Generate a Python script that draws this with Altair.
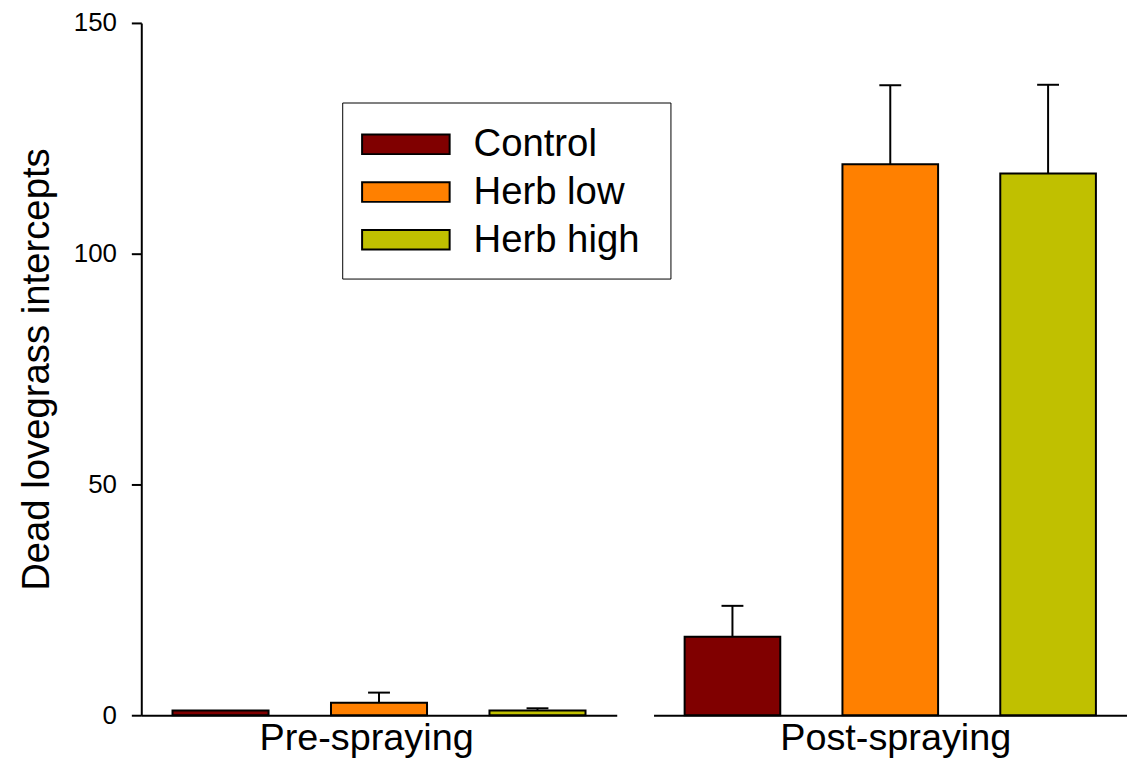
import altair as alt
import pandas as pd

treatments = ["Control", "Herb low", "Herb high"]
colors = ["#800000", "#FF8000", "#C0C000"]
periods = ["Pre-spraying", "Post-spraying"]
pre_mean = [1.0, 2.7, 1.0]
pre_se = [0.0, 2.2, 0.5]
post_mean = [17.0, 119.4, 117.4]
post_se = [6.7, 17.1, 19.2]
y_ticks = [0, 50, 100, 150]

FONT = "Liberation Sans"
BIG = 38.5


def panel(title, means, ses, width, show_y, show_legend, title_x):
    df = pd.DataFrame({"Treatment": treatments, "mean": means, "se": ses})
    df["upper"] = df["mean"] + df["se"]

    x = alt.X("Treatment:N", sort=treatments,
              scale=alt.Scale(paddingInner=0.394, paddingOuter=0.197),
              axis=alt.Axis(
                  title=title, labels=False, ticks=False, domainColor="black",
                  domainWidth=2, titleFontSize=38, titleFontWeight="normal",
                  titleFont=FONT, titleColor="black", titlePadding=4,
                  titleX=title_x,
              ))
    yscale = alt.Scale(domain=[0, 150], nice=False, zero=True)
    if show_y:
        yaxis = alt.Axis(
            title="Dead lovegrass intercepts", values=y_ticks, grid=False,
            domainColor="black", domainWidth=2, tickColor="black",
            tickWidth=2, tickSize=10, labelPadding=15, labelFontSize=26,
            labelFont=FONT, labelColor="black", titleFontSize=BIG,
            titleFont=FONT, titleFontWeight="normal", titleColor="black",
            titlePadding=17,
        )
    else:
        yaxis = None

    if show_legend:
        legend = alt.Legend(
            title=" ", titleOrient="right", titlePadding=12, titleFontSize=1,
            orient="none", legendX=202, legendY=80,
            symbolType="M-1,-0.45H3V0.45H-1Z", symbolSize=1936,
            symbolStrokeColor="black", symbolStrokeWidth=2, symbolOpacity=1,
            labelOffset=67, labelFontSize=BIG, labelFont=FONT,
            labelColor="black", labelLimit=500, rowPadding=5, padding=19,
            strokeColor="black", fillColor="white",
        )
    else:
        legend = None

    color = alt.Color("Treatment:N", sort=treatments,
                      scale=alt.Scale(domain=treatments, range=colors),
                      legend=legend)

    bars = alt.Chart(df).mark_bar(stroke="black", strokeWidth=2, opacity=1).encode(
        x=x, y=alt.Y("mean:Q", scale=yscale, axis=yaxis), fill=color
    )
    err = alt.Chart(df).transform_filter("datum.se > 0").mark_rule(
        color="black", strokeWidth=2
    ).encode(
        x=alt.X("Treatment:N", sort=treatments),
        y=alt.Y("mean:Q", scale=yscale),
        y2="upper:Q",
    )
    cap = alt.Chart(df).transform_filter("datum.se > 0").mark_tick(
        color="black", thickness=2, size=22, opacity=1
    ).encode(
        x=alt.X("Treatment:N", sort=treatments),
        y=alt.Y("upper:Q", scale=yscale),
    )
    return alt.layer(bars, err, cap).properties(width=width, height=696)


pre = panel(periods[0], pre_mean, pre_se, 478, True, True, 226)
post = panel(periods[1], post_mean, post_se, 476, False, False, 243)

chart = alt.hconcat(pre, post, spacing=37).properties(
    padding={"left": 9, "top": 0, "right": 0, "bottom": 0},
    background="white",
).configure_view(stroke=None, strokeWidth=0)

chart.save("out.html", embed_options={"renderer": "svg", "actions": False})
